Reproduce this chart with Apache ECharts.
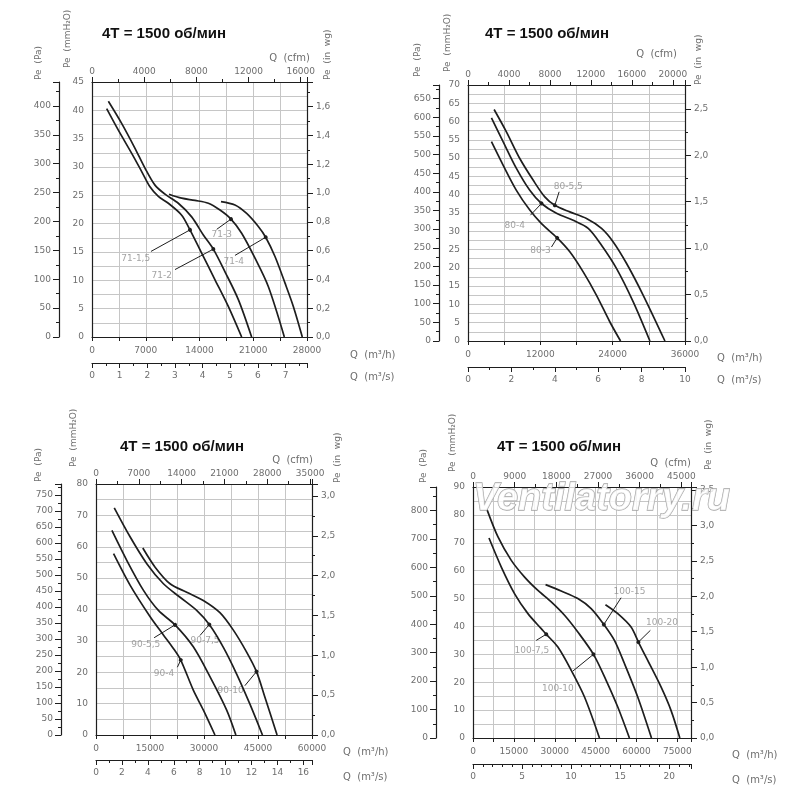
<!DOCTYPE html>
<html>
<head>
<meta charset="utf-8" />
<title>4T = 1500 об/мин</title>
<script src="https://cdn.jsdelivr.net/npm/echarts@6/dist/echarts.min.js"></script>
<style>
html, body { margin: 0; padding: 0; background: #fff; }
#chart { width: 800px; height: 801px; }
</style>
</head>
<body>
<div id="chart"></div>
<script>
// кривые: Q (m3/h), Pe (mmH2O)
var c71_15 = [[1910,40.3],[3430,36.5],[5170,32.4],[6470,29.2],[7550,26.5],[8640,24.8],[9940,23.6],[11680,21.5],[12760,18.9],[14280,14.8],[16020,10.1],[17750,5.4],[19490,0]];
var c71_2  = [[2130,41.6],[3860,37.7],[5600,33.3],[6900,29.8],[8200,26.8],[9510,25.2],[11240,23.6],[12980,21.2],[14500,18.0],[15800,15.5],[17320,11.5],[19060,6.6],[20790,0]];
var c71_3  = [[10030,25.2],[11680,24.5],[13410,24.1],[15150,23.6],[16670,22.4],[18100,20.8],[19490,18.3],[21230,13.9],[22960,8.9],[25050,0]];
var c71_4  = [[16800,23.9],[18620,23.3],[20140,21.8],[21660,19.5],[22620,17.6],[23830,14.2],[25140,9.5],[26220,5.4],[27390,0]];

var c80_3  = [[3890,54.5],[5820,48.1],[8030,41.2],[10250,35.8],[12190,32.1],[14790,28.2],[16890,24.4],[19110,18.9],[21320,12.5],[23540,5.2],[25310,0]];
var c80_4  = [[3890,61.0],[5820,54.5],[8030,47.2],[10250,41.2],[12190,37.6],[14680,34.9],[17450,33.0],[19940,30.8],[22150,26.2],[24650,19.8],[27410,10.7],[30180,0]];
var c80_55 = [[4330,63.3],[6370,57.2],[8590,49.9],[10800,44.0],[12740,39.4],[14400,37.1],[16890,35.3],[19660,33.5],[22150,30.8],[24090,27.1],[26310,21.2],[29070,12.5],[32670,0]];

var c90_4  = [[4880,57.8],[9500,47.7],[15040,37.7],[18720,31.9],[21490,27.6],[23540,23.9],[27030,14.3],[29800,8.0],[33040,0]];
var c90_55 = [[4420,65.2],[8580,55.6],[13190,46.1],[17340,39.7],[21960,35.1],[27030,28.1],[31650,18.6],[36270,8.0],[38850,0]];
var c90_75 = [[5070,72.4],[9500,63.1],[14110,54.6],[18730,48.2],[23340,43.9],[27960,39.7],[31470,35.2],[35340,28.0],[39040,19.5],[42730,9.9],[46240,0]];
var c90_10 = [[13000,59.6],[16420,53.5],[20570,48.2],[25190,45.5],[29800,42.9],[34420,39.0],[38110,33.5],[41800,26.5],[44580,20.2],[46880,12.2],[50300,0]];

var c100_75 = [[5870,71.7],[10390,61.3],[15280,51.7],[20160,44.6],[25040,39.2],[26880,37.2],[31150,32.6],[36030,24.3],[40920,14.7],[46410,0]];
var c100_10 = [[5140,81.9],[9170,72.1],[14050,63.7],[18940,57.7],[23820,52.9],[28710,48.8],[33590,44.0],[38470,38.0],[44210,30.0],[48850,20.7],[53130,11.1],[57400,0]];
var c100_15 = [[26630,55.0],[32370,52.7],[38470,50.0],[43360,46.4],[48020,40.7],[51900,35.0],[55570,26.7],[60450,14.7],[65500,0]];
var c100_20 = [[48610,47.8],[53130,44.6],[58010,39.8],[60700,34.4],[64120,27.8],[69000,18.3],[72660,9.9],[75900,0]];

// подписи: [текст, Q текста, Pe текста, Q от, Pe от, Q до, Pe до]
var lab1 = [['71-1,5',5690,13.9,7680,15.1,12760,18.9],['71-2',9070,10.8,10810,11.9,15800,15.5],
            ['71-3',16890,18.1,16240,19.0,18100,20.8],['71-4',18450,13.3,18620,14.4,22620,17.6]];
var lab2 = [['80-3',12020,24.8,13850,25.7,14790,28.2],['80-4',7760,31.5,10360,34.4,12190,37.6],
            ['80-5,5',16620,42.2,15120,40.8,14400,37.1]];
var lab3 = [['90-4',18910,19.5,22600,21.6,23540,23.9],['90-5,5',13840,28.8,16140,31.0,21960,35.1],
            ['90-7,5',30270,30.1,28880,31.7,31470,35.2],['90-10',37370,14.1,41340,15.7,44580,20.2]];
var lab4 = [['100-7,5',21630,31.4,23210,35.0,26880,37.2],['100-10',31150,17.7,36650,24.0,44210,30.0],
            ['100-15',57400,52.3,54350,50.3,48020,40.7],['100-20',69370,41.3,65090,38.6,60700,34.4]];

var KPA = 9.80665, KWG = 25.4, KCFM = 1.699, KS = 3600;

var panels = [
  { L: 92, T: 82, W: 215, H: 255, qMax: 28000, qInt: 7000, pMax: 45, pInt: 5, pMinor: 2,
    paInt: 50, wgInt: 0.2, cfmInt: 4000, sInt: 1, sMinor: 2, paOff: 33, sOff: 26, title: [97, 21],
    nm: { pa: [-53, -2], mm: [-24, -14], wg: [21, -2], cfm: [3, -24], qh: [43, 18], qs: [43, 40] },
    curves: [['71-1,5', c71_15], ['71-2', c71_2], ['71-3', c71_3], ['71-4', c71_4]], labels: lab1 },
  { L: 468, T: 85, W: 217, H: 256, qMax: 36000, qInt: 12000, pMax: 70, pInt: 5, pMinor: 2,
    paInt: 50, wgInt: 0.5, cfmInt: 4000, sInt: 2, sMinor: 2, paOff: 29, sOff: 26, title: [480, 21],
    nm: { pa: [-50, -8], mm: [-20, -13], wg: [14, 0], cfm: [-8, -31], qh: [32, 17], qs: [32, 39] },
    curves: [['80-3', c80_3], ['80-4', c80_4], ['80-5,5', c80_55]], labels: lab2 },
  { L: 96, T: 484, W: 216, H: 251, qMax: 60000, qInt: 15000, pMax: 80, pInt: 10, pMinor: 2,
    paInt: 50, wgInt: 0.5, cfmInt: 7000, sInt: 2, sMinor: 2, paOff: 35, sOff: 25, title: [115, 434],
    nm: { pa: [-57, -2], mm: [-22, -17], wg: [26, -1], cfm: [1, -24], qh: [31, 17], qs: [31, 42] },
    curves: [['90-4', c90_4], ['90-5,5', c90_55], ['90-7,5', c90_75], ['90-10', c90_10]], labels: lab3 },
  { L: 473, T: 487, W: 218, H: 251, qMax: 80000, qInt: 15000, pMax: 90, pInt: 10, pMinor: 2,
    paInt: 100, wgInt: 0.5, cfmInt: 9000, sInt: 5, sMinor: 5, paOff: 37, sOff: 26, title: [492, 434],
    nm: { pa: [-49, -4], mm: [-20, -15], wg: [18, -17], cfm: [0, -24], qh: [41, 17], qs: [41, 42] },
    curves: [['100-7,5', c100_75], ['100-10', c100_10], ['100-15', c100_15], ['100-20', c100_20]], labels: lab4 }
];

// подпись только на кратных шагу
function every(step, dec, comma) {
  return function (v) {
    var k = v / step;
    if (Math.abs(k - Math.round(k)) > 1e-6) return '';
    var s = dec ? v.toFixed(dec) : String(Math.round(v));
    return comma ? s.replace('.', ',') : s;
  };
}

var GREY = '#6e6e6e', INK = '#1e1e1e', FONT = '"DejaVu Sans"';
var lbl = { color: GREY, fontSize: 9, fontFamily: 'DejaVu Sans' };
var axLine = { show: true, onZero: false, lineStyle: { color: INK, width: 1.2 } };
var gridLn = { color: '#c6c6c6', width: 1 };

function ticks(len, minorLen, split) {
  return {
    axisTick: { show: true, length: len, lineStyle: { color: INK } },
    minorTick: { show: true, splitNumber: split || 2, length: minorLen, lineStyle: { color: INK } }
  };
}
function ax(base, extra) { return Object.assign(base, extra); }

function vtext(x, y, s) {
  return { type: 'text', x: x, y: y, rotation: Math.PI / 2, z: 10,
    style: { text: s, fill: GREY, font: '9px ' + FONT, align: 'left', verticalAlign: 'middle',
             textAlign: 'left', textVerticalAlign: 'middle' } };
}
function htext(x, y, s, a) {
  return { type: 'text', x: x, y: y, z: 10,
    style: { text: s, fill: GREY, font: '10px ' + FONT, align: a, verticalAlign: 'middle',
             textAlign: a, textVerticalAlign: 'middle' } };
}

var grids = [], xAxes = [], yAxes = [], series = [], titles = [], texts = [];

panels.forEach(function (p, i) {
  var R = p.L + p.W, B = p.T + p.H;
  grids.push({ left: p.L, top: p.T, width: p.W, height: p.H, containLabel: false, outerBoundsMode: 'none' });

  // Q m3/h (снизу)
  xAxes.push(ax({ type: 'value', gridIndex: i, position: 'bottom', min: 0, max: p.qMax, interval: p.qInt,
    axisLine: axLine, splitLine: { show: true, lineStyle: gridLn }, minorSplitLine: { show: true, lineStyle: gridLn },
    axisLabel: Object.assign({ margin: 9, formatter: every(p.qInt) }, lbl) }, ticks(4, 4)));
  // Q cfm (сверху)
  xAxes.push(ax({ type: 'value', gridIndex: i, position: 'top', min: 0, max: p.qMax / KCFM, interval: p.cfmInt,
    axisLine: axLine, splitLine: { show: false },
    axisLabel: Object.assign({ margin: 6, formatter: every(p.cfmInt) }, lbl) }, ticks(5, 3)));
  // Q m3/s (вторая шкала снизу)
  xAxes.push(ax({ type: 'value', gridIndex: i, position: 'bottom', offset: p.sOff, min: 0, max: p.qMax / KS, interval: p.sInt,
    axisLine: axLine, splitLine: { show: false },
    axisLabel: Object.assign({ margin: 8, formatter: every(p.sInt) }, lbl) }, ticks(5, 3, p.sMinor)));

  // Pe mmH2O
  yAxes.push({ type: 'value', gridIndex: i, position: 'left', min: 0, max: p.pMax, interval: p.pInt,
    axisLine: axLine, axisTick: { show: false },
    splitLine: { show: true, lineStyle: gridLn },
    minorTick: { show: false, splitNumber: p.pMinor }, minorSplitLine: { show: true, lineStyle: gridLn },
    axisLabel: Object.assign({ margin: 8, formatter: every(p.pInt) }, lbl) });
  // Pe Pa
  yAxes.push(ax({ type: 'value', gridIndex: i, position: 'left', offset: p.paOff, min: 0, max: p.pMax * KPA, interval: p.paInt,
    axisLine: axLine, splitLine: { show: false },
    axisLabel: Object.assign({ margin: 8, formatter: every(p.paInt) }, lbl) }, ticks(6, 3)));
  // Pe in wg
  yAxes.push(ax({ type: 'value', gridIndex: i, position: 'right', min: 0, max: p.pMax / KWG, interval: p.wgInt,
    axisLine: axLine, splitLine: { show: false },
    axisLabel: Object.assign({ margin: 9, formatter: every(p.wgInt, 1, true) }, lbl) }, ticks(6, 3)));

  p.curves.forEach(function (c) {
    var ml = p.labels.filter(function (l) { return l[0] === c[0]; }).map(function (l) {
      return [{ coord: [l[3], l[4]] }, { coord: [l[5], l[6]] }];
    });
    series.push({ name: c[0], type: 'line', xAxisIndex: 3 * i, yAxisIndex: 3 * i, data: c[1],
      smooth: 0.3, symbol: 'none', silent: true,
      lineStyle: { color: INK, width: 1.7 }, itemStyle: { color: INK },
      markLine: { silent: true, symbol: ['none', 'circle'], symbolSize: 4, animation: false,
        lineStyle: { color: INK, width: 1, type: 'solid' }, label: { show: false },
        emphasis: { disabled: true }, data: ml } });
  });

  series.push({ type: 'scatter', xAxisIndex: 3 * i, yAxisIndex: 3 * i, silent: true, symbolSize: 1,
    itemStyle: { color: 'rgba(0,0,0,0)' },
    data: p.labels.map(function (l) { return [l[1], l[2], l[0]]; }),
    label: { show: true, position: 'inside', formatter: function (d) { return d.value[2]; },
      color: '#8c8c8c', fontSize: 9, fontFamily: 'DejaVu Sans' } });

  titles.push({ text: '4T = 1500 об/мин', left: p.title[0], top: p.title[1],
    textStyle: { fontSize: 15, fontWeight: 'bold', fontFamily: 'Liberation Sans', color: '#111' } });

  texts.push(vtext(p.L + p.nm.pa[0], p.T + p.nm.pa[1], 'Pe  (Pa)'));
  texts.push(vtext(p.L + p.nm.mm[0], p.T + p.nm.mm[1], 'Pe  (mmH₂O)'));
  texts.push(vtext(R + p.nm.wg[0], p.T + p.nm.wg[1], 'Pe  (in  wg)'));
  texts.push(htext(R + p.nm.cfm[0], p.T + p.nm.cfm[1], 'Q  (cfm)', 'right'));
  texts.push(htext(R + p.nm.qh[0], B + p.nm.qh[1], 'Q  (m³/h)', 'left'));
  texts.push(htext(R + p.nm.qs[0], B + p.nm.qs[1], 'Q  (m³/s)', 'left'));
});

// водяной знак
texts.push({ type: 'text', x: 473, y: 500, z: 50,
  style: { text: 'Ventilatorry.ru', font: 'italic bold 38px "Liberation Sans"', fill: 'rgba(255,255,255,0.8)',
           stroke: '#a4a4a4', lineWidth: 1.3, align: 'left', verticalAlign: 'middle',
           textAlign: 'left', textVerticalAlign: 'middle' } });

var myChart = echarts.init(document.getElementById('chart'));
myChart.setOption({
  backgroundColor: '#fff',
  animation: false,
  title: titles,
  grid: grids,
  xAxis: xAxes,
  yAxis: yAxes,
  series: series,
  graphic: texts
});
</script>
</body>
</html>
